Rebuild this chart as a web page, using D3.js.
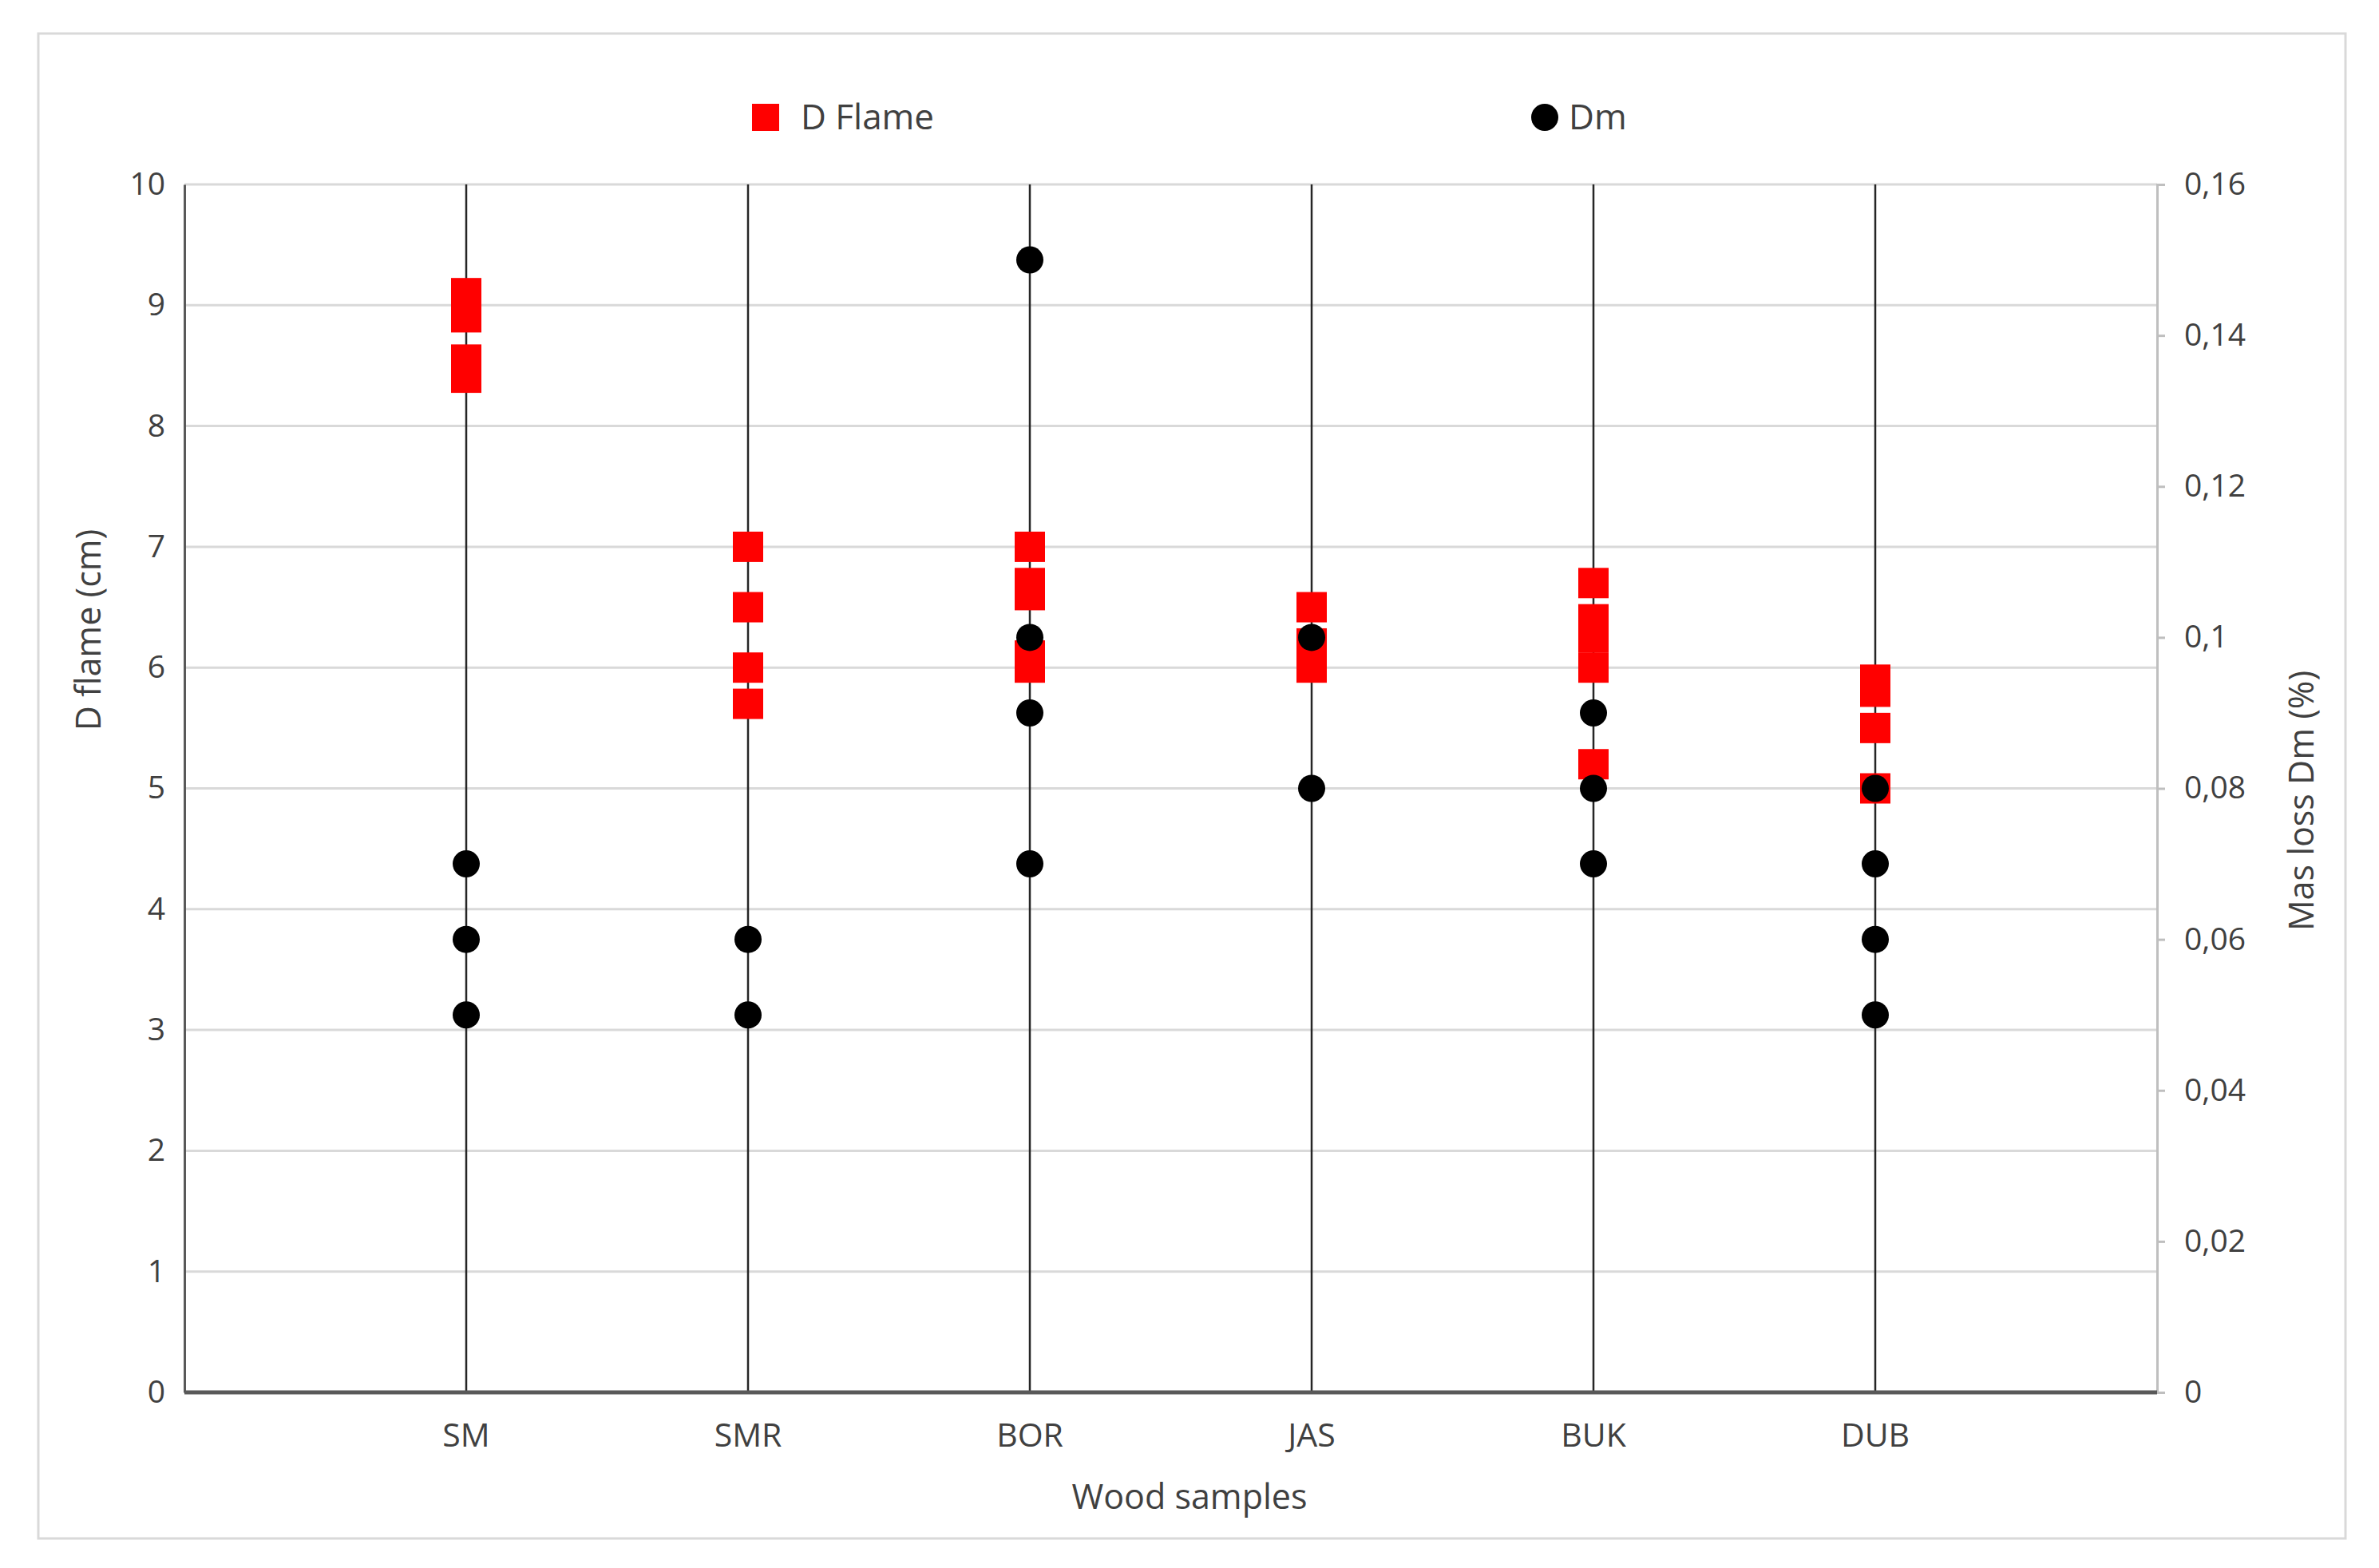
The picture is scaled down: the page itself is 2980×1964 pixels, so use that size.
<!DOCTYPE html>
<html><head><meta charset="utf-8">
<script src="https://cdn.jsdelivr.net/npm/d3@7"></script>
<style>body{margin:0;background:#fff}text{font-family:"Open Sans",sans-serif}</style>
</head><body><svg id="c" width="2980" height="1964"></svg>
<script>
const categories=["SM","SMR","BOR","JAS","BUK","DUB"];
const dFlame=[[9.1,8.9,8.55,8.4],[7,6.5,6,5.7],[7,6.7,6.6,6.1,6.0],[6.5,6.2,6.0],[6.7,6.4,6.25,6.0,5.2],[5.9,5.8,5.5,5.0]];
const dm=[[0.07,0.06,0.05],[0.06,0.05],[0.15,0.1,0.09,0.07],[0.1,0.08],[0.09,0.08,0.07],[0.08,0.07,0.06,0.05]];
const leftTicks=d3.range(0,11);
const rightTicks=[0,0.02,0.04,0.06,0.08,0.1,0.12,0.14,0.16];
const fmtR=d=>d===0?"0":String(d).replace(".",",");

const svg=d3.select("#c");
const L=231,R=2702,T=231,B=1744;
svg.append("rect").attr("x",48).attr("y",42).attr("width",2890).attr("height",1885).attr("fill","#fff").attr("stroke","#d9d9d9").attr("stroke-width",3);
const x=d3.scaleLinear().domain([0,7]).range([L,R]);
const y=d3.scaleLinear().domain([0,10]).range([B,T]);
const y2=d3.scaleLinear().domain([0,0.16]).range([B,T]);

svg.append("g").selectAll("line").data(leftTicks.slice(1)).join("line")
 .attr("x1",L).attr("x2",R).attr("y1",d=>y(d)).attr("y2",d=>y(d)).attr("stroke","#d9d9d9").attr("stroke-width",3);
const ga=svg.append("g").attr("transform",`translate(${L},0)`).call(d3.axisLeft(y).tickValues(leftTicks).tickSize(0).tickPadding(24));
ga.select(".domain").attr("stroke","#595959").attr("stroke-width",3);
ga.selectAll("text").attr("font-size",39).attr("fill","#404040");
const gr=svg.append("g").attr("transform",`translate(${R},0)`).call(d3.axisRight(y2).tickValues(rightTicks).tickFormat(fmtR).tickSize(10).tickPadding(24));
gr.select(".domain").attr("stroke","#bfbfbf").attr("stroke-width",3);
gr.selectAll(".tick line").attr("stroke","#bfbfbf").attr("stroke-width",3);
gr.selectAll("text").attr("font-size",39).attr("fill","#404040");
svg.append("g").selectAll("line").data(categories).join("line")
 .attr("x1",(d,i)=>x(i+1)).attr("x2",(d,i)=>x(i+1)).attr("y1",B).attr("y2",T).attr("stroke","#262626").attr("stroke-width",2.5);
svg.append("line").attr("x1",L).attr("x2",R).attr("y1",B).attr("y2",B).attr("stroke","#595959").attr("stroke-width",5);
svg.append("g").selectAll("text").data(categories).join("text")
 .attr("x",(d,i)=>x(i+1)).attr("y",B+68).attr("text-anchor","middle").attr("font-size",41).attr("fill","#404040").text(d=>d);
const sq=38;
dFlame.forEach((arr,i)=>svg.append("g").selectAll("rect").data(arr).join("rect")
 .attr("x",x(i+1)-sq/2).attr("y",d=>y(d)-sq/2).attr("width",sq).attr("height",sq).attr("fill","#ff0000"));
dm.forEach((arr,i)=>svg.append("g").selectAll("circle").data(arr).join("circle")
 .attr("cx",x(i+1)).attr("cy",d=>y2(d)).attr("r",17).attr("fill","#000"));
svg.append("text").attr("x",1490).attr("y",1890).attr("text-anchor","middle").attr("font-size",43).attr("fill","#404040").text("Wood samples");
svg.append("text").attr("transform","translate(126,789) rotate(-90)").attr("text-anchor","middle").attr("font-size",43).attr("fill","#404040").text("D flame (cm)");
svg.append("text").attr("transform","translate(2898,1003) rotate(-90)").attr("text-anchor","middle").attr("font-size",43).attr("fill","#404040").text("Mas loss Dm (%)");
svg.append("rect").attr("x",942).attr("y",130).attr("width",34).attr("height",34).attr("fill","#ff0000");
svg.append("text").attr("x",1003).attr("y",162).attr("font-size",44).attr("fill","#404040").text("D Flame");
svg.append("circle").attr("cx",1935).attr("cy",147).attr("r",17).attr("fill","#000");
svg.append("text").attr("x",1965).attr("y",162).attr("font-size",44).attr("fill","#404040").text("Dm");
</script></body></html>
